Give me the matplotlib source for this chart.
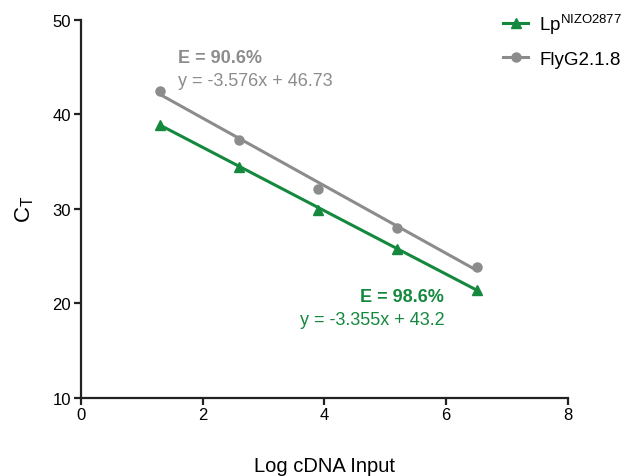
import numpy as np
import matplotlib
matplotlib.use("Agg")
import matplotlib.pyplot as plt
from matplotlib.lines import Line2D

plt.rcParams['font.family'] = ['Liberation Sans', 'DejaVu Sans']

# data
log_input = [1.3, 2.6, 3.9, 5.2, 6.5]
ct_lp = [38.85, 34.4, 29.9, 25.7, 21.4]
ct_fly = [42.4, 37.3, 32.1, 28.0, 23.8]

# fitted standard curves, as printed on the chart
fit_lp = (-3.355, 43.2)
fit_fly = (-3.576, 46.73)
eff_lp = 98.6
eff_fly = 90.6

green = '#14893E'
grey = '#8C8C8C'

fig = plt.figure(figsize=(6.31, 4.77), dpi=100)
ax = fig.add_axes([0.128, 0.164, 0.772, 0.793])

x_ends = np.array([log_input[0], log_input[-1]])

# regression lines
ax.plot(x_ends, fit_lp[0] * x_ends + fit_lp[1], color=green, lw=2.2)
ax.plot(x_ends, fit_fly[0] * x_ends + fit_fly[1], color=grey, lw=2.2)

# measured points
ax.plot(log_input, ct_lp, '^', color=green, ms=6.5)
ax.plot(log_input, ct_fly, 'o', color=grey, ms=6.5)

ax.set_xlim(0, 8)
ax.set_ylim(10, 50)
ax.set_xticks([0, 2, 4, 6, 8])
ax.set_yticks([10, 20, 30, 40, 50])
for s in ['top', 'right']:
    ax.spines[s].set_visible(False)
for s in ['left', 'bottom']:
    ax.spines[s].set_linewidth(1.6)
    ax.spines[s].set_color('#222222')
ax.tick_params(length=5, width=1.6, color='#222222', labelsize=12, pad=2)

ax.set_xlabel('Log cDNA Input', fontsize=14.5, labelpad=24)
ax.set_ylabel(r'C$_\mathregular{T}$', fontsize=16, labelpad=12)

# efficiency annotations
ax.text(1.6, 46.0, f'E = {eff_fly}%', color=grey, fontsize=13, fontweight='bold', va='center')
ax.text(1.6, 43.6, f'y = {fit_fly[0]}x + {fit_fly[1]}', color=grey, fontsize=13, va='center')
ax.text(5.97, 20.7, f'E = {eff_lp}%', color=green, fontsize=13, fontweight='bold', va='center', ha='right')
ax.text(5.97, 18.3, f'y = {fit_lp[0]}x + {fit_lp[1]}', color=green, fontsize=13, va='center', ha='right')

# legend uses line + marker handles
handles = [Line2D([], [], color=green, marker='^', lw=2.2, ms=6.5),
           Line2D([], [], color=grey, marker='o', lw=2.2, ms=6.5)]
fig.legend(handles, [r'Lp$^{\mathregular{NIZO2877}}$', 'FlyG2.1.8'],
           loc='upper left', bbox_to_anchor=(0.771, 1.01), frameon=False,
           fontsize=13.5, handlelength=1.3, handletextpad=0.6, labelspacing=0.8)

fig.savefig('out.png', dpi=100)
